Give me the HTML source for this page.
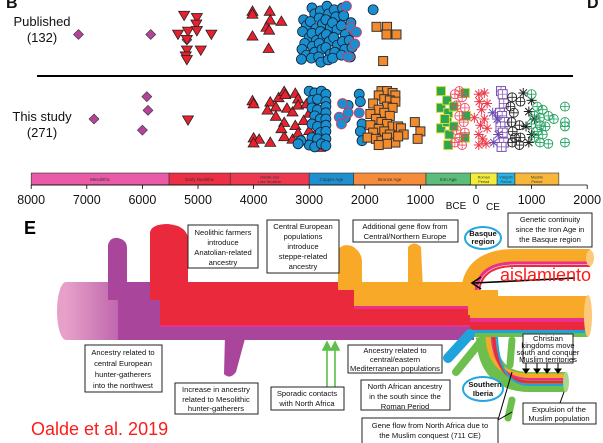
<!DOCTYPE html>
<html><head><meta charset="utf-8">
<style>
html,body{margin:0;padding:0;background:#fff;}
svg{display:block;font-family:"Liberation Sans",Arial,sans-serif;}
.bx{fill:#fff;stroke:#222;stroke-width:1;}
.bt{font-size:7.6px;fill:#111;text-anchor:middle;}
</style></head>
<body>
<svg id="fig" width="603" height="443" viewBox="0 0 603 443">
<g id="panelB"></g>
<g id="panelE">
  <text x="24" y="234" font-size="18" font-weight="bold">E</text>
  <!-- tube -->
  <defs>
    <linearGradient id="pinkfade" x1="0" x2="1"><stop offset="0" stop-color="#e7a0c8"/><stop offset="1" stop-color="#b65aa8"/></linearGradient>
  </defs>
  <ellipse cx="66" cy="311" rx="9" ry="29" fill="#e7a0c8"/>
  <rect x="66" y="282" width="64" height="58" fill="url(#pinkfade)"/>
  <rect x="118" y="282" width="356" height="58" fill="#a9469b"/>
  <path d="M108 245 Q110 237 118 238 Q127 240 127 248 L127 300 L108 300 Z" fill="#a9469b"/>
  <path d="M225 335 L246 335 L236 372 Q230 380 224 374 Z" fill="#a9469b"/>
  <rect x="160" y="282" width="312" height="44" fill="#ea2a3c"/>
  <rect x="160" y="325" width="312" height="2" fill="#e8308c"/>
  <path d="M150 232 Q152 224 168 224 Q188 226 188 240 L188 300 L150 300 Z" fill="#ea2a3c"/>
  <path d="M338 250 Q342 243 352 246 Q362 252 362 262 L362 290 L338 290 Z" fill="#f9a928"/>
  <path d="M408 247 Q414 240 421 247 L423 290 L408 290 Z" fill="#f9a928"/>
  <rect x="354" y="282" width="118" height="26" fill="#f9a928"/>
  <rect x="354" y="306" width="118" height="3" fill="#e8308c"/>
  <!-- Basque branch -->
  <path d="M468 292 Q470 256 515 256 L590 256" fill="none" stroke="#f9a928" stroke-width="14"/>
  <path d="M476 292 Q478 263 515 263 L590 263" fill="none" stroke="#e8308c" stroke-width="3"/>
  <path d="M479 292 Q481 266 515 266 L590 266" fill="none" stroke="#ea2a3c" stroke-width="2"/>
  <ellipse cx="590" cy="258" rx="4" ry="8" fill="#fbc978"/>
  <!-- junction and right tube -->
  <rect x="468" y="290" width="30" height="25" fill="#f9a928"/>
  <rect x="470" y="296" width="118" height="22" fill="#f9a928"/>
  <rect x="470" y="318" width="118" height="4" fill="#e8308c"/>
  <rect x="470" y="322" width="118" height="8" fill="#ea2a3c"/>
  <rect x="470" y="330" width="118" height="3" fill="#1fa3dc"/>
  <rect x="470" y="333" width="118" height="4" fill="#6cbf4c"/>
  <ellipse cx="588" cy="316" rx="4" ry="21" fill="#fbc978"/>
  <!-- blue branch -->
  <path d="M470 334 L448 358" stroke="#1fa3dc" stroke-width="10" stroke-linecap="round"/>
  <path d="M482 340 L456 372" stroke="#6cbf4c" stroke-width="8" stroke-linecap="round"/>
  <!-- southern loop -->
  <path d="M486 337 Q488 382 530 382 L566 382" fill="none" stroke="#6cbf4c" stroke-width="20"/>
  <path d="M488 337 Q490 376 530 376 L566 376" fill="none" stroke="#f9a928" stroke-width="5"/>
  <path d="M492 337 Q494 379 530 379 L566 379" fill="none" stroke="#e8308c" stroke-width="2"/>
  <path d="M494 337 Q496 382 530 382 L566 382" fill="none" stroke="#ea2a3c" stroke-width="3"/>
  <path d="M497 337 Q499 385 530 385 L566 385" fill="none" stroke="#1fa3dc" stroke-width="2"/>
  <ellipse cx="566" cy="382" rx="3" ry="10" fill="#a8d890"/>
  <path d="M512 340 L510 365" stroke="#6cbf4c" stroke-width="7" stroke-linecap="round"/>
  <path d="M512 400 L508 418" stroke="#6cbf4c" stroke-width="7" stroke-linecap="round"/>
  <!-- green arrows -->
  <g stroke="#5cc04a" stroke-width="1.6" fill="#5cc04a">
    <line x1="327" y1="387" x2="327" y2="348"/><path d="M323 350 L327 342 L331 350 Z"/>
    <line x1="335" y1="387" x2="335" y2="348"/><path d="M331 350 L335 342 L339 350 Z"/>
  </g>
  <!-- black arrows -->
  <g stroke="#000" stroke-width="1" fill="#000">
    <line x1="526" y1="363" x2="526" y2="370"/><path d="M523 369 L526 373 L529 369Z"/>
    <line x1="537" y1="363" x2="537" y2="370"/><path d="M534 369 L537 373 L540 369Z"/>
    <line x1="547" y1="363" x2="547" y2="370"/><path d="M544 369 L547 373 L550 369Z"/>
    <line x1="558" y1="363" x2="558" y2="370"/><path d="M555 369 L558 373 L561 369Z"/>
    <line x1="560" y1="403" x2="564" y2="392"/>
    <line x1="498" y1="420" x2="512" y2="372"/>
    <line x1="498" y1="420" x2="512" y2="412"/>
    <line x1="575" y1="278" x2="474" y2="283" stroke-width="1.6"/>
    <path d="M481 277 L472 283 L481 289" fill="none" stroke-width="1.6"/>
  </g>
  <!-- text boxes -->
  <g><rect class="bx" x="188" y="225" width="70" height="43"/>
    <text class="bt" x="223" y="235">Neolithic farmers</text><text class="bt" x="223" y="245">introduce</text><text class="bt" x="223" y="255">Anatolian-related</text><text class="bt" x="223" y="265">ancestry</text></g>
  <g><rect class="bx" x="267" y="220" width="72" height="53"/>
    <text class="bt" x="303" y="229">Central European</text><text class="bt" x="303" y="239">populations</text><text class="bt" x="303" y="249">introduce</text><text class="bt" x="303" y="259">steppe-related</text><text class="bt" x="303" y="269">ancestry</text></g>
  <g><rect class="bx" x="353" y="220" width="105" height="22"/>
    <text class="bt" x="405" y="229">Additional gene flow from</text><text class="bt" x="405" y="239">Central/Northern Europe</text></g>
  <g><ellipse cx="483" cy="238" rx="18" ry="11" fill="#fff" stroke="#22a7e0" stroke-width="2"/>
    <text class="bt" x="483" y="236" font-weight="bold" font-size="7">Basque</text><text class="bt" x="483" y="244" font-weight="bold" font-size="7">region</text></g>
  <g><rect class="bx" x="508" y="213" width="84" height="34"/>
    <text class="bt" x="550" y="222">Genetic continuity</text><text class="bt" x="550" y="232">since the Iron Age in</text><text class="bt" x="550" y="242">the Basque region</text></g>
  <text x="500" y="281" font-size="18" fill="#ff1a1a">aislamiento</text>
  <g><rect class="bx" x="85" y="345" width="77" height="47"/>
    <text class="bt" x="123" y="355">Ancestry related to</text><text class="bt" x="123" y="366">central European</text><text class="bt" x="123" y="377">hunter-gatherers</text><text class="bt" x="123" y="388">into the northwest</text></g>
  <g><rect class="bx" x="175" y="383" width="83" height="31"/>
    <text class="bt" x="216" y="392">Increase in ancestry</text><text class="bt" x="216" y="402">related to Mesolithic</text><text class="bt" x="216" y="411">hunter-gatherers</text></g>
  <g><rect class="bx" x="271" y="387" width="73" height="23"/>
    <text class="bt" x="307" y="396">Sporadic contacts</text><text class="bt" x="307" y="406">with North Africa</text></g>
  <g><rect class="bx" x="348" y="345" width="94" height="28"/>
    <text class="bt" x="395" y="353" font-size="6.8">Ancestry related to</text><text class="bt" x="395" y="362" font-size="6.8">central/eastern</text><text class="bt" x="395" y="371" font-size="6.8">Mediterranean populations</text></g>
  <g><rect class="bx" x="361" y="380" width="89" height="30"/>
    <text class="bt" x="405" y="389">North African ancestry</text><text class="bt" x="405" y="399">in the south since the</text><text class="bt" x="405" y="409">Roman Period</text></g>
  <g><ellipse cx="483" cy="389" rx="20" ry="12" fill="#fff" stroke="#22a7e0" stroke-width="2"/>
    <text class="bt" x="485" y="387" font-weight="bold" font-size="7">Southern</text><text class="bt" x="483" y="396" font-weight="bold" font-size="7">Iberia</text></g>
  <g><rect class="bx" x="523" y="334" width="50" height="29"/>
    <text class="bt" x="548" y="341" font-size="4.6">Christian</text><text class="bt" x="548" y="348" font-size="4.6">kingdoms move</text><text class="bt" x="548" y="355" font-size="4.6">south and conquer</text><text class="bt" x="548" y="362" font-size="4.6">Muslim territories</text></g>
  <g><rect class="bx" x="523" y="403" width="73" height="21"/>
    <text class="bt" x="559" y="412">Expulsion of the</text><text class="bt" x="559" y="421">Muslim population</text></g>
  <g><rect class="bx" x="362" y="418" width="136" height="26"/>
    <text class="bt" x="430" y="428">Gene flow from North Africa due to</text><text class="bt" x="430" y="438">the Muslim conquest (711 CE)</text></g>
  <text x="31" y="435" font-size="18" fill="#ff1a1a">Oalde et al. 2019</text>
</g>
</svg>
<script>
// years: negative = BCE, positive = CE; jitter = position within the row band (0 top, 1 bottom)
const axisTicks = [-8000,-7000,-6000,-5000,-4000,-3000,-2000,-1000,0,1000,2000];
const tickLabels = ["8000","7000","6000","5000","4000","3000","2000","1000","0","1000","2000"];
const periodNames = ["Mesolithic","Early Neolithic","Middle and|Late Neolithic","Copper Age","Bronze Age","Iron Age","Roman|Period","Visigoth|Period","Muslim|Period"];
const periodStarts = [-8000,-5520,-4420,-3000,-2200,-900,-100,380,700];
const periodEnds = [-5520,-4420,-3000,-2200,-900,-100,380,700,1490];
const periodColors = ["#ea5aa6","#ec2f45","#ee3850","#1e90d0","#f58b3b","#5bbd7a","#f3ec3a","#26b3e6","#f9b73a"];

const pubDiamonds = [[-7150,.50],[-5850,.50],[-5200,.59]];
const pubInvTri = [[-5250,.18],[-5020,.22],[-5030,.33],[-5360,.50],[-5180,.45],[-5020,.44],[-4760,.50],[-5200,.59],[-4950,.77],[-5200,.77],[-5220,.87],[-5200,.93]];
const pubTri = [[-4020,.10],[-4020,.15],[-3710,.10],[-3700,.25],[-3500,.27],[-3770,.37],[-3720,.42],[-4020,.52],[-3730,.73]];
const pubCircles = [[-3100,.25],[-3050,.35],[-3120,.45],[-3000,.55],[-3080,.65],[-3130,.75],[-3050,.85],[-3140,.92],
[-2950,.05],[-2900,.15],[-2980,.28],[-2880,.40],[-2950,.48],[-2870,.60],[-2940,.70],[-2900,.80],[-2960,.90],
[-2800,.10],[-2820,.22],[-2760,.32],[-2800,.45],[-2750,.55],[-2820,.65],[-2770,.75],[-2830,.88],[-2790,.97],
[-2680,.02],[-2650,.15],[-2700,.25],[-2620,.38],[-2690,.50],[-2640,.62],[-2700,.72],[-2620,.83],[-2660,.93],
[-2550,.08],[-2520,.20],[-2580,.30],[-2500,.42],[-2560,.55],[-2490,.68],[-2540,.80],[-2580,.90],
[-2400,.05],[-2380,.18],[-2420,.35],[-2350,.50],[-2400,.62],[-2360,.75],[-2420,.85],
[-2250,.30],[-2200,.45],[-2280,.60],[-2230,.72],[-2260,.88],[-1850,.08]];
const pubPinkCircles = [[-2330,.02],[-2250,.38],[-2150,.46],[-2180,.66],[-2300,.88]];
const pubSquares = [[-1790,.37],[-1600,.37],[-1610,.50],[-1430,.50],[-1670,.95]];

const stDiamonds = [[-5920,.14],[-5900,.36],[-6870,.50],[-6000,.68]];
const stInvTri = [[-5180,.52]];
const stTri = [[-4020,.20],[-4000,.25],[-3700,.22],[-3550,.15],[-3450,.05],[-3430,.10],[-3250,.08],[-3200,.17],[-3750,.35],[-3600,.30],[-3400,.32],[-3600,.45],[-3300,.38],[-3200,.27],[-3050,.25],[-3000,.40],[-3450,.55],[-3250,.60],[-3100,.52],[-4000,.80],[-3900,.82],[-4000,.88],[-3700,.87],[-3450,.78],[-3300,.82],[-3200,.72],[-3100,.85],[-2850,.88],[-2900,.75],[-3000,.68],[-2800,.95],[-3500,.65]];
const stCircles = [[-3000,.05],[-2900,.08],[-2780,.05],[-2700,.10],[-2950,.20],[-2850,.18],[-2700,.22],[-2950,.32],[-2850,.35],[-2700,.30],[-2700,.40],[-2900,.45],[-2800,.50],[-2700,.50],[-2950,.58],[-2850,.62],[-2700,.60],[-2800,.72],[-2700,.70],[-2950,.80],[-2850,.82],[-2700,.82],[-3000,.92],[-2900,.95],[-2780,.90],[-2700,.93],[-3150,.85],[-3200,.90],[-2100,.10],[-2080,.22],[-2050,.58],[-2080,.70],[-2050,.85],[-2300,.28],[-2350,.48]];
const stPinkCircles = [[-2400,.25],[-2460,.47],[-2300,.40],[-2420,.58],[-2100,.40]];
const stSquares = [[-1700,.05],[-1600,.05],[-1500,.08],[-1450,.12],[-1750,.12],[-1650,.18],[-1550,.20],[-1450,.22],[-1850,.25],[-1600,.30],[-1500,.32],[-1750,.35],[-1650,.40],[-1900,.42],[-1550,.45],[-1800,.50],[-1700,.55],[-1600,.58],[-1900,.60],[-1500,.62],[-1750,.66],[-1650,.70],[-1400,.62],[-1850,.72],[-1550,.75],[-1950,.80],[-1800,.82],[-1700,.85],[-1600,.80],[-1450,.88],[-1350,.65],[-1300,.75],[-1100,.55],[-1000,.70],[-1050,.82],[-1400,.78],[-1600,.90],[-1750,.92]];
const stIronSquares = [[-630,.05],[-630,.32],[-630,.65],[-520,.20],[-500,.40],[-520,.55],[-480,.75],[-500,.92],[-400,.30],[-400,.62],[-200,.08],[-180,.45],[-200,.80],[-560,.50]];
const stPinkCross = [[-380,.10],[-300,.05],[-250,.15],[-350,.28],[-200,.32],[-300,.45],[-220,.55],[-350,.68],[-200,.72],[-300,.80],[-250,.92],[-380,.88]];
const stRedStars = [[50,.10],[150,.08],[60,.22],[200,.25],[100,.35],[-30,.48],[150,.50],[80,.60],[200,.65],[50,.75],[120,.82],[50,.92],[180,.90]];
const stPurpleSquares = [[450,.05],[480,.10],[500,.25],[430,.40],[470,.45],[510,.55],[440,.62],[480,.72],[500,.88],[460,.95]];
const stPurpleStars = [[300,.40],[380,.50],[320,.88],[400,.75]];
const stBlackCross = [[650,.15],[620,.30],[680,.40],[640,.55],[660,.70],[700,.80],[650,.88],[800,.22],[780,.60],[800,.80],[780,.92]];
const stBlackStars = [[850,.08],[1000,.20],[950,.38],[1050,.50],[900,.62],[1000,.75],[950,.88]];
const stGreenCross = [[1000,.10],[1100,.30],[1200,.35],[1050,.45],[1150,.48],[1300,.45],[1000,.58],[1150,.60],[1250,.62],[1100,.70],[1200,.75],[1050,.80],[1150,.88],[1300,.90],[1600,.30],[1600,.55],[1600,.62],[1600,.88],[1400,.50]];

const NS = "http://www.w3.org/2000/svg";
const g = document.getElementById('panelB');
function xS(yr){ return 476 + yr * 0.0556; }
const pubBand = [5, 64], stBand = [88, 150];
function yS(j, band){ return band[0] + j * (band[1] - band[0]); }
function mk(tag, attrs, parent){
  const e = document.createElementNS(NS, tag);
  for (const k in attrs) e.setAttribute(k, attrs[k]);
  (parent || g).appendChild(e);
  return e;
}
function txt(x, y, s, size, anchor, parent){
  const t = mk('text', {x:x, y:y, 'font-size':size, 'text-anchor':anchor||'start', fill:'#111'}, parent);
  t.textContent = s;
  return t;
}

// labels
let t;
t = txt(6, 8, 'B', 16, 'start'); t.setAttribute('font-weight','bold');


t = txt(587, 8, 'D', 16, 'start'); t.setAttribute('font-weight','bold');


t = txt(42, 26, 'Published', 13, 'middle');


t = txt(42, 42, '(132)', 13, 'middle');


t = txt(42, 121, 'This study', 13, 'middle');


t = txt(42, 137, '(271)', 13, 'middle');


let div = mk('line', {x1:37, y1:76, x2:573, y2:76, stroke:'#000', 'stroke-width':2});



// period bar
periodNames.forEach((nm, i) => {
  const x0 = xS(periodStarts[i]), x1 = xS(periodEnds[i]);
  const r = mk('rect', {x:x0, y:173, width:x1-x0, height:12, fill:periodColors[i], stroke:'#333', 'stroke-width':0.6});
  
  
  const parts = nm.split('|');
  parts.forEach((p, k) => {
    const tt = txt((x0+x1)/2, parts.length===1 ? 181 : 178.5 + k*4.5, p, parts.length===1 ? 4.5 : 3.8, 'middle');
    tt.setAttribute('fill', '#333');
  });
});
// axis
let ax = mk('line', {x1:xS(-8000), y1:185, x2:xS(2000), y2:185, stroke:'#000', 'stroke-width':0.8});


axisTicks.forEach((v, i) => {
  mk('line', {x1:xS(v), y1:185, x2:xS(v), y2:189, stroke:'#000', 'stroke-width':0.8});
  const tl = txt(xS(v), 204, tickLabels[i], 12.5, 'middle');
  
  
});
t = txt(456, 209, 'BCE', 10, 'middle');


t = txt(493, 210, 'CE', 10, 'middle');



// markers
function circle(x,y,fill,stroke){ return mk('circle',{cx:x,cy:y,r:5,fill:fill,stroke:stroke,'stroke-width':0.8}); }
function tri(x,y,down){ const s=5.5; const d = down ? `M${x-s} ${y-s*0.8} L${x+s} ${y-s*0.8} L${x} ${y+s*0.9} Z` : `M${x-s} ${y+s*0.8} L${x+s} ${y+s*0.8} L${x} ${y-s*0.9} Z`; return mk('path',{d:d,fill:'#e8212e',stroke:'#222','stroke-width':0.8}); }
function diamond(x,y){ return mk('path',{d:`M${x} ${y-5} L${x+5} ${y} L${x} ${y+5} L${x-5} ${y} Z`,fill:'#b3449a',stroke:'#333','stroke-width':0.6}); }
function square(x,y,fill,stroke){ return mk('rect',{x:x-4.5,y:y-4.5,width:9,height:9,fill:fill,stroke:stroke,'stroke-width':1}); }
function crossCircle(x,y,col){ const c = mk('g',{}); mk('circle',{cx:x,cy:y,r:4.5,fill:'none',stroke:col,'stroke-width':0.9},c); mk('path',{d:`M${x-4.5} ${y} H${x+4.5} M${x} ${y-4.5} V${y+4.5}`,stroke:col,'stroke-width':0.8},c); return c; }
function star(x,y,col){ return mk('path',{d:`M${x-5} ${y} H${x+5} M${x} ${y-5} V${y+5} M${x-3.6} ${y-3.6} L${x+3.6} ${y+3.6} M${x-3.6} ${y+3.6} L${x+3.6} ${y-3.6}`,stroke:col,'stroke-width':1}); }
function crossSquare(x,y,col){ const c = mk('g',{}); mk('rect',{x:x-4.5,y:y-4.5,width:9,height:9,fill:'#fff',stroke:col,'stroke-width':1},c); mk('path',{d:`M${x-4.5} ${y} H${x+4.5} M${x} ${y-4.5} V${y+4.5}`,stroke:col,'stroke-width':0.7},c); return c; }

function plot(arr, band, fn, name){
  arr.forEach(p => {
    const el = fn(xS(p[0]), yS(p[1], band));
    
    
  });
}
plot(pubDiamonds, pubBand, diamond, 'published-mesolithic-point');
plot(pubInvTri, pubBand, (x,y)=>tri(x,y,true), 'published-early-neolithic-point');
plot(pubTri, pubBand, (x,y)=>tri(x,y,false), 'published-late-neolithic-point');
plot(pubCircles, pubBand, (x,y)=>circle(x,y,'#1a8fd0','#123'), 'published-copper-age-point');
plot(pubPinkCircles, pubBand, (x,y)=>circle(x,y,'#1a8fd0','#ee3060'), 'published-copper-steppe-point');
plot(pubSquares, pubBand, (x,y)=>square(x,y,'#f38a2c','#333'), 'published-bronze-age-point');

plot(stDiamonds, stBand, diamond, 'study-mesolithic-point');
plot(stInvTri, stBand, (x,y)=>tri(x,y,true), 'study-early-neolithic-point');
plot(stTri, stBand, (x,y)=>tri(x,y,false), 'study-late-neolithic-point');
plot(stCircles, stBand, (x,y)=>circle(x,y,'#1a8fd0','#123'), 'study-copper-age-point');
plot(stPinkCircles, stBand, (x,y)=>circle(x,y,'#1a8fd0','#ee3060'), 'study-copper-steppe-point');
plot(stSquares, stBand, (x,y)=>square(x,y,'#f38a2c','#333'), 'study-bronze-age-point');
plot(stIronSquares, stBand, (x,y)=>square(x,y,'#2aa655','#d8d832'), 'study-iron-age-point');
plot(stPinkCross, stBand, (x,y)=>crossCircle(x,y,'#ee4a6a'), 'study-iron-age-pink-point');
plot(stRedStars, stBand, (x,y)=>star(x,y,'#ec3a4a'), 'study-roman-point');
plot(stPurpleSquares, stBand, (x,y)=>crossSquare(x,y,'#7a4fb0'), 'study-visigoth-point');
plot(stPurpleStars, stBand, (x,y)=>star(x,y,'#6a4ab0'), 'study-visigoth-star-point');
plot(stBlackCross, stBand, (x,y)=>crossCircle(x,y,'#222'), 'study-medieval-point');
plot(stBlackStars, stBand, (x,y)=>star(x,y,'#222'), 'study-medieval-star-point');
plot(stGreenCross, stBand, (x,y)=>crossCircle(x,y,'#22a060'), 'study-muslim-point');
</script>
</body></html>
